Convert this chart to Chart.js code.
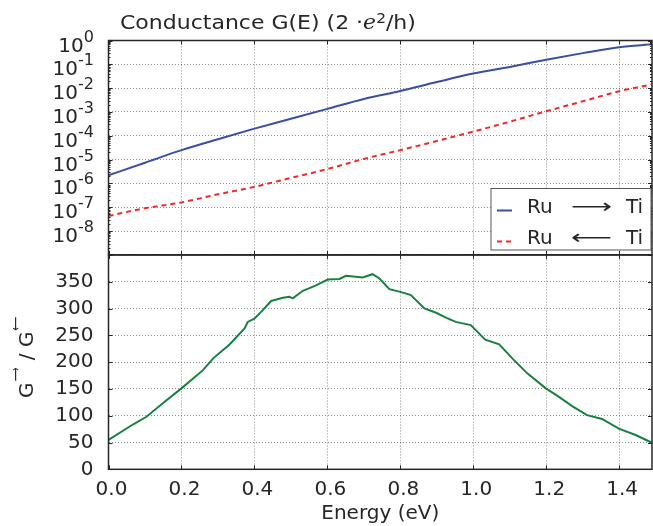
<!DOCTYPE html>
<html>
<head>
<meta charset="utf-8">
<script src="https://cdn.jsdelivr.net/npm/chart.js@4.4.0/dist/chart.umd.min.js"></script>
<style>
  html, body { margin: 0; padding: 0; background: #fff; }
</style>
</head>
<body>
<canvas id="chart" width="653" height="526"></canvas>
<script>
// values
const energyG = [0.0, 0.1, 0.2, 0.3, 0.4, 0.5, 0.6, 0.7, 0.8, 0.9, 1.0, 1.1, 1.2, 1.3, 1.4, 1.49];
// Ru -> Ti conductance (2e^2/h)
const gForward = [2.2e-6, 7.4e-6, 2.5e-5, 7.2e-5, 2.0e-4, 5.2e-4, 1.35e-3, 3.5e-3, 7.6e-3, 1.8e-2,
  4.1e-2, 7.8e-2, 1.55e-1, 2.95e-1, 5.25e-1, 6.9e-1];
// Ru <- Ti conductance
const gBackward = [4.3e-8, 9.1e-8, 1.6e-7, 3.5e-7, 7.2e-7, 1.7e-6, 4.0e-6, 1.07e-5, 2.5e-5, 6.0e-5,
  1.5e-4, 3.9e-4, 1.07e-3, 2.8e-3, 7.4e-3, 1.45e-2];

const energyRatio = [0.0, 0.068, 0.104, 0.159, 0.2, 0.259, 0.287, 0.332, 0.373, 0.382, 0.4, 0.423,
  0.446, 0.478, 0.496, 0.505, 0.533, 0.569, 0.601, 0.633, 0.651, 0.697, 0.724, 0.743, 0.77, 0.8,
  0.829, 0.866, 0.898, 0.925, 0.952, 0.993, 1.033, 1.071, 1.107, 1.148, 1.199, 1.235, 1.271,
  1.312, 1.353, 1.399, 1.445, 1.489];
const ratio = [55, 84, 98, 129, 151, 185, 207, 233, 263, 275, 281, 297,
  314, 320, 322, 319, 333, 343, 354, 355, 361, 358, 364, 356, 336, 331,
  325, 300, 292, 283, 275, 269, 242, 233, 207, 179, 151, 135, 118,
  101, 94, 76, 64, 50];

const energyTicks = [0, 0.2, 0.4, 0.6, 0.8, 1.0, 1.2, 1.4];
const decadeTicks = [1e-9, 1e-8, 1e-7, 1e-6, 1e-5, 1e-4, 1e-3, 1e-2, 1e-1, 1];
const ratioTicks = [0, 50, 100, 150, 200, 250, 300, 350, 400];

const FONT = '"DejaVu Sans", "Liberation Sans", sans-serif';
const INK = '#262626';
const GRID = 'rgba(0,0,0,0.45)';
const BLUE = '#3a4ea3';
const RED = '#ee2a2a';
const GREEN = '#178240';

// frame, inward ticks, math-style labels, legend
const decor = {
  id: 'decor',
  afterDraw(chart) {
    const ctx = chart.ctx;
    const a = chart.chartArea;
    const xs = chart.scales.x, yl = chart.scales.yLog, yr = chart.scales.yRatio;
    ctx.save();

    // inward tick marks
    ctx.strokeStyle = INK;
    ctx.lineWidth = 1;
    ctx.beginPath();
    energyTicks.forEach(v => {
      const px = Math.round(xs.getPixelForValue(v)) + 0.5;
      [[yl.top, 4], [yl.bottom, -4], [yr.top, 4], [yr.bottom, -4]].forEach(([py, d]) => {
        ctx.moveTo(px, py); ctx.lineTo(px, py + d);
      });
    });
    decadeTicks.forEach((v, i) => {
      const py = Math.round(yl.getPixelForValue(v)) + 0.5;
      ctx.moveTo(a.left, py); ctx.lineTo(a.left + 4, py);
      ctx.moveTo(a.right, py); ctx.lineTo(a.right - 4, py);
      if (i < decadeTicks.length - 1) {
        for (let k = 2; k < 10; k++) {
          const pm = Math.round(yl.getPixelForValue(v * k)) + 0.5;
          ctx.moveTo(a.left, pm); ctx.lineTo(a.left + 2, pm);
          ctx.moveTo(a.right, pm); ctx.lineTo(a.right - 2, pm);
        }
      }
    });
    ratioTicks.forEach(v => {
      const py = Math.round(yr.getPixelForValue(v)) + 0.5;
      ctx.moveTo(a.left, py); ctx.lineTo(a.left + 4, py);
      ctx.moveTo(a.right, py); ctx.lineTo(a.right - 4, py);
    });
    ctx.stroke();

    // panel frames
    ctx.lineWidth = 1.5;
    ctx.strokeRect(a.left, yl.top, a.right - a.left, yl.bottom - yl.top);
    ctx.strokeRect(a.left, yr.top, a.right - a.left, yr.bottom - yr.top);

    // 10^n labels on the log axis
    ctx.fillStyle = INK;
    ctx.textAlign = 'left';
    ctx.textBaseline = 'alphabetic';
    decadeTicks.forEach(v => {
      if (v < 1e-8) return;
      const py = yl.getPixelForValue(v);
      const exp = String(Math.round(Math.log10(v)));
      ctx.font = '20px ' + FONT;
      const wb = ctx.measureText('10').width;
      ctx.font = '16px ' + FONT;
      const we = ctx.measureText(exp).width;
      const x0 = 94 - wb - we;
      ctx.font = '20px ' + FONT;
      ctx.fillText('10', x0, py + 11);
      ctx.font = '16px ' + FONT;
      ctx.fillText(exp, x0 + wb, py + 1);
    });

    // title
    ctx.save();
    ctx.translate(120, 29);
    ctx.scale(1.1, 1);
    let cx = 0;
    const put = (t, font, dy) => {
      ctx.font = font;
      ctx.fillText(t, cx, dy || 0);
      cx += ctx.measureText(t).width;
    };
    put('Conductance G(E) (2 \u00B7', '20px ' + FONT);
    put('e', 'italic 20px "DejaVu Serif", serif');
    put('2', '14px ' + FONT, -6);
    put('/h)', '20px ' + FONT);
    ctx.restore();

    // arrow glyph stretched to a given length
    const arrow = (glyph, x, base, len, size) => {
      ctx.save();
      ctx.font = size + 'px ' + FONT;
      const w = ctx.measureText(glyph).width;
      ctx.translate(x, base);
      ctx.scale(len / w, 1);
      ctx.fillText(glyph, 0, 0);
      ctx.restore();
    };

    // y label of the ratio panel: G(->) / G(<-)
    ctx.save();
    ctx.translate(33, 398);
    ctx.rotate(-Math.PI / 2);
    let u = 0;
    const word = (t) => {
      ctx.font = '20px ' + FONT;
      ctx.fillText(t, u, 0);
      u += ctx.measureText(t).width;
    };
    word('G');
    arrow('\u27F6', u + 1, -13, 14, 14); u += 16;
    word(' / ');
    word('G');
    arrow('\u27F5', u + 1, -13, 14, 14);
    ctx.restore();

    // legend
    const lx = 491, ly = 188.5, lw = 160, lh = 61.5;
    ctx.fillStyle = '#fff';
    ctx.fillRect(lx, ly, lw, lh);
    ctx.strokeStyle = '#555';
    ctx.lineWidth = 1;
    ctx.strokeRect(lx, ly, lw, lh);
    const rows = [
      { ds: chart.data.datasets[0], y: 210.5, base: 212.5, glyph: '\u27F6' },
      { ds: chart.data.datasets[1], y: 241.5, base: 243.5, glyph: '\u27F5' }
    ];
    rows.forEach(r => {
      ctx.strokeStyle = r.ds.borderColor;
      ctx.lineWidth = 2;
      ctx.setLineDash(r.ds.borderDash || []);
      ctx.beginPath();
      ctx.moveTo(497, r.y); ctx.lineTo(512, r.y);
      ctx.stroke();
      ctx.setLineDash([]);
      ctx.fillStyle = INK;
      ctx.font = '20px ' + FONT;
      ctx.fillText('Ru', 527, r.base);
      arrow(r.glyph, 571, r.base, 41, 20);
      ctx.font = '20px ' + FONT;
      ctx.fillText('Ti', 626, r.base);
    });

    ctx.restore();
  }
};

const tickFont = { family: FONT, size: 20 };

new Chart(document.getElementById('chart'), {
  type: 'line',
  data: {
    datasets: [
      {
        label: 'Ru \u27F6 Ti',
        data: energyG.map((e, i) => ({ x: e, y: gForward[i] })),
        yAxisID: 'yLog',
        borderColor: BLUE,
        borderWidth: 2,
        pointRadius: 0,
        cubicInterpolationMode: 'monotone'
      },
      {
        label: 'Ru \u27F5 Ti',
        data: energyG.map((e, i) => ({ x: e, y: gBackward[i] })),
        yAxisID: 'yLog',
        borderColor: RED,
        borderWidth: 2,
        borderDash: [5, 4],
        pointRadius: 0,
        cubicInterpolationMode: 'monotone'
      },
      {
        label: 'G\u27F6 / G\u27F5',
        data: energyRatio.map((e, i) => ({ x: e, y: ratio[i] })),
        yAxisID: 'yRatio',
        borderColor: GREEN,
        borderWidth: 2,
        pointRadius: 0
      }
    ]
  },
  options: {
    responsive: false,
    animation: false,
    devicePixelRatio: 1,
    layout: { padding: { top: 40.5, right: 1, left: 0, bottom: 0 } },
    plugins: { legend: { display: false }, tooltip: { enabled: false } },
    scales: {
      x: {
        type: 'linear',
        min: 0,
        max: 1.49,
        afterBuildTicks: s => { s.ticks = energyTicks.map(v => ({ value: v })); },
        afterFit: s => { s.height = 56.7; },
        ticks: {
          font: tickFont, color: INK, padding: 8, labelOffset: 3,
          maxRotation: 0, autoSkip: false,
          callback: v => v.toFixed(1)
        },
        grid: { color: GRID, drawTicks: false },
        border: { display: false, dash: [1, 2] },
        title: {
          display: true, text: 'Energy (eV)', color: INK,
          font: { family: FONT, size: 20 }, padding: { top: 0, bottom: 0 }
        }
      },
      yRatio: {
        type: 'linear',
        position: 'left',
        stack: 'panels',
        stackWeight: 1,
        min: 0,
        max: 400,
        afterBuildTicks: s => { s.ticks = ratioTicks.map(v => ({ value: v })); },
        afterFit: s => { s.width = 108.5; },
        ticks: {
          font: tickFont, color: INK, padding: 15, autoSkip: false,
          callback: v => (v === 400 ? '' : v)
        },
        grid: { color: GRID, drawTicks: false },
        border: { display: false, dash: [1, 2] }
      },
      yLog: {
        type: 'logarithmic',
        position: 'left',
        stack: 'panels',
        stackWeight: 1,
        min: 1e-9,
        max: 1,
        afterBuildTicks: s => { s.ticks = decadeTicks.map(v => ({ value: v })); },
        afterFit: s => { s.width = 108.5; },
        ticks: { callback: () => '', autoSkip: false },
        grid: { color: GRID, drawTicks: false },
        border: { display: false, dash: [1, 2] }
      }
    }
  },
  plugins: [decor]
});
</script>
</body>
</html>
